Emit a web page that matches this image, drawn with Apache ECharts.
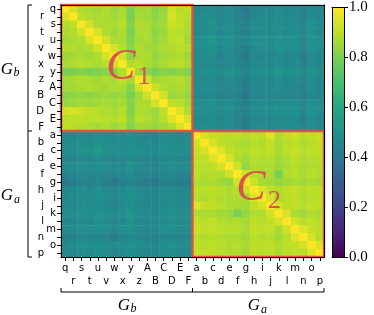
<!DOCTYPE html>
<html><head><meta charset="utf-8">
<script src="https://cdn.jsdelivr.net/npm/echarts@6/dist/echarts.min.js"></script>
<style>html,body{margin:0;padding:0;background:#fff}#c{width:374px;height:315px}</style>
</head><body><div id="c"></div>
<script>
const gbLabels = ['q','r','s','t','u','v','w','x','y','z','A','B','C','D','E','F'];
const gaLabels = ['a','b','c','d','e','f','g','h','i','j','k','l','m','n','o','p'];
const colorbarTicks = [0, 0.2, 0.4, 0.6, 0.8, 1.0];

// block C1 (rows/cols G_b)
const blockC1 = [
 [1.00,.94,.88,.87,.86,.88,.85,.87,.80,.86,.86,.82,.84,.93,.89,.90],
 [.94,1.00,.90,.88,.87,.88,.86,.88,.80,.87,.86,.83,.85,.94,.90,.89],
 [.88,.90,1.00,.93,.88,.87,.87,.89,.81,.88,.87,.84,.86,.92,.90,.88],
 [.87,.88,.93,1.00,.94,.88,.86,.88,.80,.87,.88,.83,.85,.90,.89,.87],
 [.86,.87,.88,.94,1.00,.93,.88,.87,.81,.86,.87,.84,.86,.89,.90,.86],
 [.88,.88,.87,.88,.93,1.00,.94,.89,.82,.88,.86,.85,.87,.88,.89,.88],
 [.85,.86,.87,.86,.88,.94,1.00,.93,.83,.87,.88,.84,.86,.87,.88,.85],
 [.87,.88,.89,.88,.87,.89,.93,1.00,.88,.90,.87,.85,.87,.89,.90,.87],
 [.80,.80,.81,.80,.81,.82,.83,.88,1.00,.86,.82,.80,.82,.81,.83,.81],
 [.86,.87,.88,.87,.86,.88,.87,.90,.86,1.00,.93,.86,.87,.88,.89,.86],
 [.86,.86,.87,.88,.87,.86,.88,.87,.82,.93,1.00,.92,.88,.87,.88,.86],
 [.82,.83,.84,.83,.84,.85,.84,.85,.80,.86,.92,1.00,.93,.85,.86,.84],
 [.84,.85,.86,.85,.86,.87,.86,.87,.82,.87,.88,.93,1.00,.90,.89,.86],
 [.93,.94,.92,.90,.89,.88,.87,.89,.81,.88,.87,.85,.90,1.00,.95,.88],
 [.89,.90,.90,.89,.90,.89,.88,.90,.83,.89,.88,.86,.89,.95,1.00,.94],
 [.90,.89,.88,.87,.86,.88,.85,.87,.81,.86,.86,.84,.86,.88,.94,1.00]
];

// block C2 (rows/cols G_a)
const blockC2 = [
 [1.00,.93,.91,.90,.89,.90,.88,.90,.89,.95,.88,.90,.92,.89,.90,.91],
 [.93,1.00,.94,.90,.89,.88,.87,.89,.88,.91,.87,.89,.90,.88,.89,.90],
 [.91,.94,1.00,.95,.90,.89,.88,.90,.89,.90,.87,.90,.91,.89,.90,.90],
 [.90,.90,.95,1.00,.94,.88,.86,.89,.88,.89,.86,.88,.90,.88,.89,.89],
 [.89,.89,.90,.94,1.00,.93,.84,.88,.87,.88,.85,.87,.89,.87,.88,.88],
 [.90,.88,.89,.88,.93,1.00,.93,.89,.88,.87,.80,.88,.89,.87,.89,.88],
 [.88,.87,.88,.86,.84,.93,1.00,.92,.87,.86,.84,.86,.87,.86,.87,.86],
 [.90,.89,.90,.89,.88,.89,.92,1.00,.95,.90,.88,.90,.91,.89,.90,.90],
 [.89,.88,.89,.88,.87,.88,.87,.95,1.00,.94,.88,.89,.90,.88,.89,.89],
 [.95,.91,.90,.89,.88,.87,.86,.90,.94,1.00,.93,.90,.91,.89,.90,.90],
 [.88,.87,.87,.86,.85,.80,.84,.88,.88,.93,1.00,.94,.87,.86,.88,.87],
 [.90,.89,.90,.88,.87,.88,.86,.90,.89,.90,.94,1.00,.93,.89,.90,.89],
 [.92,.90,.91,.90,.89,.89,.87,.91,.90,.91,.87,.93,1.00,.95,.91,.90],
 [.89,.88,.89,.88,.87,.87,.86,.89,.88,.89,.86,.89,.95,1.00,.94,.89],
 [.90,.89,.90,.89,.88,.89,.87,.90,.89,.90,.88,.90,.91,.94,1.00,.95],
 [.91,.90,.90,.89,.88,.88,.86,.90,.89,.90,.87,.89,.90,.89,.95,1.00]
];

// cross block: rows G_a, cols G_b (upper-right block is its transpose)
const blockCross = [
 [.46,.47,.48,.47,.49,.48,.47,.48,.50,.48,.47,.46,.48,.49,.47,.48],
 [.47,.48,.49,.48,.50,.49,.48,.47,.49,.47,.48,.47,.49,.48,.47,.48],
 [.48,.49,.51,.50,.53,.50,.49,.48,.50,.49,.48,.47,.50,.49,.48,.49],
 [.45,.46,.47,.46,.48,.47,.44,.46,.48,.46,.45,.44,.47,.48,.46,.47],
 [.47,.48,.49,.48,.50,.49,.48,.47,.51,.48,.47,.45,.48,.49,.48,.48],
 [.44,.45,.47,.46,.47,.46,.45,.46,.48,.46,.45,.44,.46,.47,.45,.46],
 [.41,.42,.44,.44,.45,.43,.41,.43,.45,.43,.42,.40,.43,.44,.42,.43],
 [.46,.47,.48,.47,.49,.47,.46,.47,.49,.47,.46,.45,.47,.48,.46,.47],
 [.47,.48,.49,.48,.50,.49,.47,.48,.51,.48,.47,.46,.48,.49,.47,.48],
 [.46,.47,.48,.47,.48,.47,.46,.47,.49,.47,.46,.45,.47,.48,.46,.47],
 [.48,.49,.50,.49,.51,.50,.48,.49,.52,.49,.48,.47,.49,.50,.48,.49],
 [.46,.47,.48,.47,.49,.48,.46,.47,.50,.47,.46,.45,.48,.49,.47,.48],
 [.47,.48,.49,.48,.50,.49,.47,.48,.51,.48,.47,.46,.49,.50,.48,.49],
 [.43,.44,.46,.45,.46,.45,.42,.44,.47,.45,.44,.43,.45,.46,.44,.45],
 [.47,.48,.50,.49,.50,.49,.48,.48,.51,.49,.48,.47,.49,.50,.48,.49],
 [.46,.47,.48,.47,.49,.48,.46,.47,.49,.47,.46,.45,.48,.48,.46,.47]
];

const viridis = ['#440154','#482475','#414487','#355f8d','#2a788e','#21918c','#22a884','#44bf70','#7ad151','#bddf26','#fde725'];
const RED = '#d9534f';

const categories = gbLabels.concat(gaLabels);
const n = gbLabels.length;
const heat = [];
for (let r = 0; r < categories.length; r++) {
  for (let c = 0; c < categories.length; c++) {
    let v;
    if (r < n && c < n) v = blockC1[r][c];
    else if (r >= n && c >= n) v = blockC2[r - n][c - n];
    else if (r >= n && c < n) v = blockCross[r - n][c];
    else v = blockCross[c - n][r];
    heat.push([c, r, v]);
  }
}
const blocks = [[0, 0, n - 1, n - 1], [n, n, 2 * n - 1, 2 * n - 1]];

const SANS = 'DejaVu Sans';
const SERIF = 'Liberation Serif';
const frameAxis = (pos, type, grid) => ({
  gridIndex: grid, type: type, position: pos, data: type === 'category' ? (grid === 0 ? categories : ['']) : undefined,
  z: 10, axisLine: {show: true, onZero: false, lineStyle: {color: '#000', width: 1}},
  axisTick: {show: false}, axisLabel: {show: false}, splitLine: {show: false}
});

const chart = echarts.init(document.getElementById('c'), null, {renderer: 'canvas'});
const option = {
  animation: false,
  backgroundColor: '#fff',
  grid: [
    {left: 61, top: 5, width: 263, height: 252, containLabel: false},
    {left: 332, top: 5, width: 12, height: 252, containLabel: false}
  ],
  xAxis: [
    {gridIndex: 0, type: 'category', data: categories, position: 'bottom', z: 10,
     axisLine: {show: true, onZero: false, lineStyle: {color: '#000', width: 1}},
     axisTick: {show: true, alignWithLabel: true, length: 4, lineStyle: {color: '#000', width: 1}},
     axisLabel: {interval: 0, margin: 6, color: '#000', fontFamily: SANS, fontSize: 10, hideOverlap: false,
       formatter: (v, i) => (i % 2 === 0 ? '{a|' + v + '}' : '{b|' + v + '}'),
       rich: {a: {fontFamily: SANS, fontSize: 10, color: '#000'}, b: {fontFamily: SANS, fontSize: 10, color: '#000', padding: [13, 0, 0, 0]}}},
     splitLine: {show: false}},
    frameAxis('top', 'category', 0),
    frameAxis('bottom', 'category', 1),
    frameAxis('top', 'category', 1)
  ],
  yAxis: [
    {gridIndex: 0, type: 'category', data: categories, inverse: true, position: 'left', z: 10,
     axisLine: {show: true, onZero: false, lineStyle: {color: '#000', width: 1}},
     axisTick: {show: true, alignWithLabel: true, length: 4, lineStyle: {color: '#000', width: 1}},
     axisLabel: {interval: 0, margin: 5, color: '#000', fontFamily: SANS, fontSize: 10, hideOverlap: false,
       formatter: (v, i) => (i % 2 === 0 ? '{a|' + v + '}' : '{b|' + v + '}'),
       rich: {a: {fontFamily: SANS, fontSize: 10, color: '#000'}, b: {fontFamily: SANS, fontSize: 10, color: '#000', padding: [0, 12, 0, 0]}}},
     splitLine: {show: false}},
    Object.assign(frameAxis('right', 'category', 0), {inverse: true}),
    {gridIndex: 1, type: 'value', min: 0, max: 1, interval: 0.2, position: 'right', z: 10,
     axisLine: {show: true, onZero: false, lineStyle: {color: '#000', width: 1}},
     axisLabel: {margin: 5, color: '#000', fontFamily: SERIF, fontSize: 15,
       customValues: colorbarTicks, formatter: v => v.toFixed(1)},
     axisTick: {show: true, length: 4, lineStyle: {color: '#000', width: 1}, customValues: colorbarTicks},
     splitLine: {show: false}},
    frameAxis('left', 'value', 1)
  ],
  visualMap: {type: 'continuous', show: false, min: 0, max: 1, seriesIndex: 0, inRange: {color: viridis}},
  series: [
    {type: 'heatmap', xAxisIndex: 0, yAxisIndex: 0, data: heat, itemStyle: {borderWidth: 0}, emphasis: {disabled: true}, progressive: 0, z: 2},
    {type: 'custom', xAxisIndex: 0, yAxisIndex: 0, data: blocks, z: 5, silent: true,
     encode: {x: [0, 2], y: [1, 3]},
     renderItem: function (params, api) {
       const p0 = api.coord([api.value(0), api.value(1)]);
       const p1 = api.coord([api.value(2), api.value(3)]);
       const s = api.size([1, 1]);
       const x0 = Math.min(p0[0], p1[0]) - s[0] / 2, x1 = Math.max(p0[0], p1[0]) + s[0] / 2;
       const y0 = Math.min(p0[1], p1[1]) - s[1] / 2, y1 = Math.max(p0[1], p1[1]) + s[1] / 2;
       return {type: 'rect', shape: {x: x0, y: y0, width: x1 - x0, height: y1 - y0},
         style: {fill: null, stroke: RED, lineWidth: 2.4}};
     }},
    {type: 'bar', xAxisIndex: 2, yAxisIndex: 2, data: [1], barWidth: '100%', silent: true, z: 2,
     itemStyle: {color: {type: 'linear', x: 0, y: 1, x2: 0, y2: 0,
       colorStops: viridis.map((c, i) => ({offset: i / (viridis.length - 1), color: c}))}}}
  ],
  graphic: [
    {type: 'polyline', shape: {points: [[32, 5], [28, 5], [28, 257], [32, 257]]}, style: {stroke: '#000', lineWidth: 1, fill: null}},
    {type: 'line', shape: {x1: 28, y1: 131, x2: 32, y2: 131}, style: {stroke: '#000', lineWidth: 1}},
    {type: 'polyline', shape: {points: [[61, 288], [61, 292], [324, 292], [324, 288]]}, style: {stroke: '#000', lineWidth: 1, fill: null}},
    {type: 'line', shape: {x1: 192.5, y1: 292, x2: 192.5, y2: 288}, style: {stroke: '#000', lineWidth: 1}},
    {type: 'text', x: 7, y: 70, style: {text: 'G', font: 'italic 17px ' + SERIF, fill: '#000', textAlign: 'center', textVerticalAlign: 'middle'}},
    {type: 'text', x: 16.5, y: 73, style: {text: 'b', font: 'italic 12px ' + SERIF, fill: '#000', textAlign: 'center', textVerticalAlign: 'middle'}},
    {type: 'text', x: 7, y: 196, style: {text: 'G', font: 'italic 17px ' + SERIF, fill: '#000', textAlign: 'center', textVerticalAlign: 'middle'}},
    {type: 'text', x: 17, y: 200, style: {text: 'a', font: 'italic 12px ' + SERIF, fill: '#000', textAlign: 'center', textVerticalAlign: 'middle'}},
    {type: 'text', x: 124, y: 306, style: {text: 'G', font: 'italic 17px ' + SERIF, fill: '#000', textAlign: 'center', textVerticalAlign: 'middle'}},
    {type: 'text', x: 133.5, y: 309, style: {text: 'b', font: 'italic 12px ' + SERIF, fill: '#000', textAlign: 'center', textVerticalAlign: 'middle'}},
    {type: 'text', x: 254, y: 306, style: {text: 'G', font: 'italic 17px ' + SERIF, fill: '#000', textAlign: 'center', textVerticalAlign: 'middle'}},
    {type: 'text', x: 264, y: 310, style: {text: 'a', font: 'italic 12px ' + SERIF, fill: '#000', textAlign: 'center', textVerticalAlign: 'middle'}},
    {type: 'text', x: 121, y: 67, z: 20, style: {text: 'C', font: 'italic 44px ' + SERIF, fill: RED, textAlign: 'center', textVerticalAlign: 'middle'}},
    {type: 'text', x: 144, y: 77, z: 20, style: {text: '1', font: '26px ' + SERIF, fill: RED, textAlign: 'center', textVerticalAlign: 'middle'}},
    {type: 'text', x: 251, y: 188, z: 20, style: {text: 'C', font: 'italic 44px ' + SERIF, fill: RED, textAlign: 'center', textVerticalAlign: 'middle'}},
    {type: 'text', x: 274.5, y: 201, z: 20, style: {text: '2', font: '26px ' + SERIF, fill: RED, textAlign: 'center', textVerticalAlign: 'middle'}}
  ]
};
chart.setOption(option);
</script></body></html>
